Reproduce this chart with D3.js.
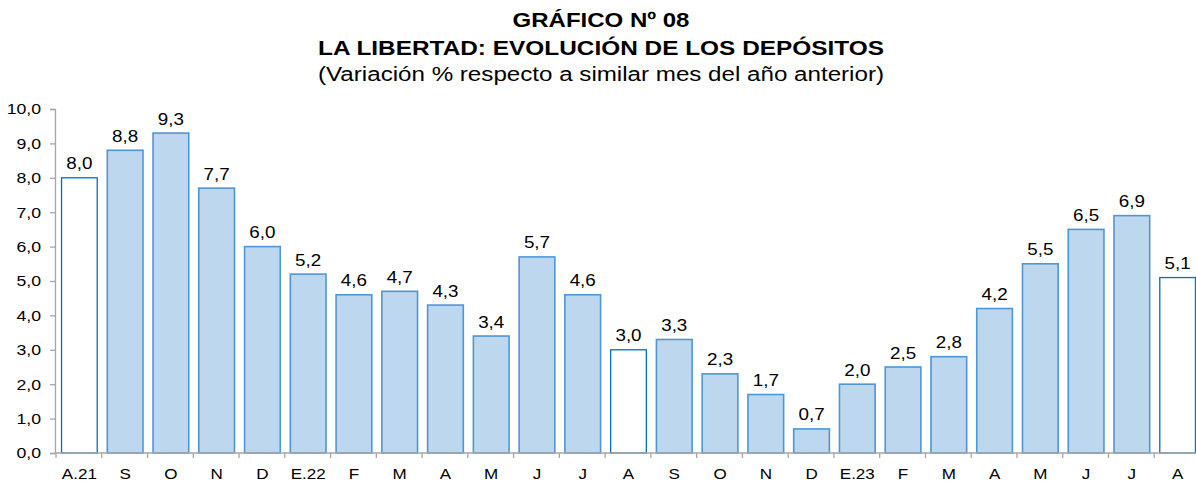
<!DOCTYPE html>
<html>
<head>
<meta charset="utf-8">
<script src="https://cdn.jsdelivr.net/npm/d3@7"></script>
<style>
  html, body { margin: 0; padding: 0; background: #fff; }
  svg { display: block; font-family: "Liberation Sans", Arial, sans-serif; }
</style>
</head>
<body>
<svg id="chart" width="1196" height="483"></svg>
<script>
// Months (A = agosto shown as hollow bars)
const categories = ['A.21','S','O','N','D','E.22','F','M','A','M','J','J','A','S','O','N','D','E.23','F','M','A','M','J','J','A'];
const values     = [8.0, 8.8, 9.3, 7.7, 6.0, 5.2, 4.6, 4.7, 4.3, 3.4, 5.7, 4.6, 3.0, 3.3, 2.3, 1.7, 0.7, 2.0, 2.5, 2.8, 4.2, 5.5, 6.5, 6.9, 5.1];
const hollow     = [0, 12, 24];
const yTicks     = [0, 1, 2, 3, 4, 5, 6, 7, 8, 9, 10];

const titleLines = [
  { text: 'GRÁFICO Nº 08', bold: true, size: 21, len: 177, y: 27 },
  { text: 'LA LIBERTAD: EVOLUCIÓN DE LOS DEPÓSITOS', bold: true, size: 21, len: 566, y: 55 },
  { text: '(Variación % respecto a similar mes del año anterior)', bold: false, size: 20, len: 566, y: 81 }
];

const svg = d3.select('#chart');
const fmt = v => d3.format('.1f')(v).replace('.', ',');

// text in the source is a bit wider than Arial, so stretch horizontally
const SX = 1.14;

const x = d3.scaleBand()
  .domain(d3.range(categories.length))
  .range([56, 1200])
  .paddingInner(0.22)
  .paddingOuter(0.11);

const y = d3.scaleLinear().domain([0, 10]).range([453, 109]);

// Title
svg.append('g').selectAll('text')
  .data(titleLines)
  .join('text')
  .attr('x', d => 601 - d.len / 2)
  .attr('y', d => d.y)
  .attr('textLength', d => d.len)
  .attr('lengthAdjust', 'spacingAndGlyphs')
  .attr('font-size', d => d.size)
  .attr('font-weight', d => d.bold ? 'bold' : 'normal')
  .attr('fill', '#000')
  .text(d => d.text);

// Bars
svg.append('g').selectAll('rect')
  .data(values)
  .join('rect')
  .attr('x', (d, i) => x(i) + 0.5)
  .attr('y', d => y(d))
  .attr('width', x.bandwidth())
  .attr('height', d => y(0) - y(d))
  .attr('fill', (d, i) => hollow.includes(i) ? '#ffffff' : '#bdd7ee')
  .attr('stroke', (d, i) => hollow.includes(i) ? '#0070c0' : '#4f96d6')
  .attr('stroke-width', (d, i) => hollow.includes(i) ? 1.3 : 1.6);

// Value labels
svg.append('g').selectAll('text')
  .data(values)
  .join('text')
  .attr('transform', (d, i) => `translate(${x(i) + x.bandwidth() / 2 + 0.5},${y(d) - 8.5}) scale(${SX},1)`)
  .attr('text-anchor', 'middle')
  .attr('font-size', 16.5)
  .attr('fill', '#000')
  .text(fmt);

// Y axis
const yAxis = svg.append('g')
  .attr('transform', 'translate(55,0)')
  .call(d3.axisLeft(y).tickValues(yTicks).tickSize(5).tickPadding(9).tickFormat(fmt));
yAxis.select('.domain').attr('stroke', '#a6a6a6').attr('stroke-width', 1.3);
yAxis.selectAll('.tick line').attr('stroke', '#a6a6a6').attr('stroke-width', 1.3);
yAxis.selectAll('.tick text')
  .attr('x', -14 / SX)
  .attr('transform', `scale(${SX},1)`)
  .attr('font-size', 15.5).attr('fill', '#000')
  .attr('font-family', '"Liberation Sans", Arial, sans-serif');

// X axis
const xAxis = svg.append('g')
  .attr('transform', `translate(0,${y(0)})`);
xAxis.append('line')
  .attr('x1', 55).attr('x2', 1196)
  .attr('stroke', '#a6a6a6').attr('stroke-width', 1.3);
const step = x.step();
xAxis.selectAll('line.tk')
  .data(d3.range(categories.length))
  .join('line')
  .attr('class', 'tk')
  .attr('x1', i => x(i) - step * 0.11)
  .attr('x2', i => x(i) - step * 0.11)
  .attr('y1', 0).attr('y2', 5)
  .attr('stroke', '#a6a6a6').attr('stroke-width', 1.3);
xAxis.selectAll('text')
  .data(categories)
  .join('text')
  .attr('transform', (d, i) => `translate(${x(i) + x.bandwidth() / 2 + 0.5},26) scale(1.1,1)`)
  .attr('text-anchor', 'middle')
  .attr('font-size', 15.5)
  .attr('fill', '#000')
  .text(d => d);
</script>
</body>
</html>
